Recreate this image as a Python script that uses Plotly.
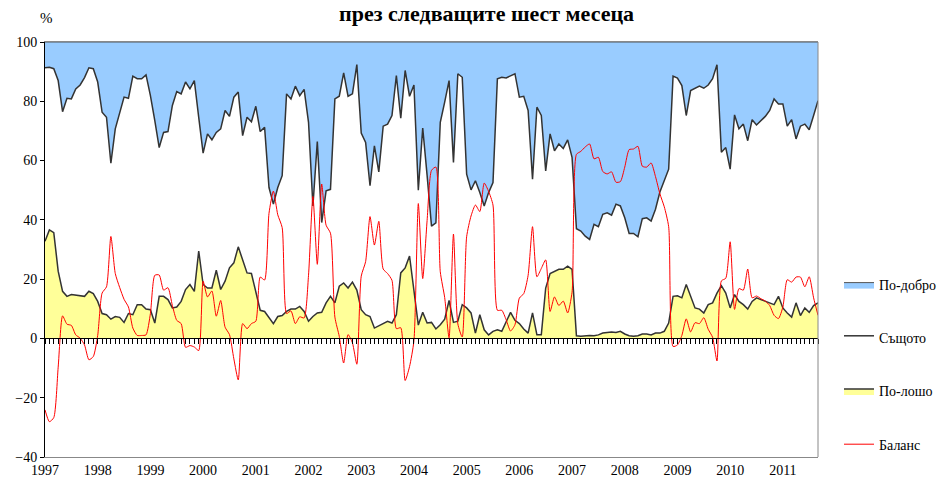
import plotly.graph_objects as go

years = [str(y) for y in range(1997, 2012)]

better = [8.7, 8.5, 9, 13, 23.5, 19, 19.2, 15.8, 14.5, 12, 8.7, 9,
          13.5, 23.7, 25.4, 40.9, 29.3, 24.3, 18.6, 19, 11.5, 12.4, 12.4, 11.1,
          18.1, 26.5, 35.6, 30.5, 30.2, 21.4, 16.7, 17.5, 13.5, 15.8, 13, 25.4,
          37.5, 31, 33, 30.5, 29.3, 23.1, 25.1, 18.6, 16.9, 31.6, 25.4, 26.9,
          21.7, 30.2, 28.8, 49.1, 54.7, 49.1, 45.1, 17.5, 19.2, 14.9, 18.1, 16,
          27.1, 55.3, 33.6, 60.9, 50.2, 49.7, 19.2, 18.3, 10.4, 18.3, 17.5, 7.6,
          30.7, 33.9, 48.5, 35, 43.8, 28.4, 27.7, 24.8, 11.3, 25.7, 9.6, 18.3,
          14.5, 50, 29, 45, 62.1, 61, 27.1, 20.3, 13, 40.6, 10.7, 11.9,
          44.6, 49.9, 46.8, 50.8, 55.3, 50.8, 47.4, 12.4, 11.9, 12.1, 11.3, 10.7,
          18.6, 18.3, 23.1, 46.3, 22, 24.8, 43.5, 31, 36.7, 34.4, 35.9, 33,
          38.9, 63, 63.8, 65.5, 66.6, 61.5, 62.3, 58.1, 57.6, 58.4, 54.7, 55.3,
          59.3, 64.6, 64.6, 65.7, 59.6, 59.3, 60.4, 56.4, 50.6, 46.8, 42.9, 11.5,
          12.2, 14.7, 24.8, 16.4, 15.6, 14.9, 15.6, 14.5, 12.4, 7.7, 37.2, 35.6,
          42.9, 24.6, 29.3, 27.7, 33.3, 26.2, 28, 26.5, 25.1, 23.1, 19.2, 20.9,
          20.9, 28.4, 26.2, 32.7, 28.4, 27.7, 29.6, 24.8, 19.8]

worse = [32.8, 36.6, 35.7, 22.7, 15.9, 14.2, 14.8, 14.6, 14.4, 14.2, 15.9, 15.1,
         12.5, 8.4, 8, 6.5, 7.4, 7.1, 5.4, 8.4, 8, 11.4, 11.4, 9.9,
         9.7, 5.2, 14.2, 14.2, 13.1, 10.3, 10.6, 12.5, 16.5, 18.2, 15.9, 29.5,
         18.2, 17, 17, 23, 16.5, 19.3, 23.8, 25.5, 30.9, 26.6, 22.1, 21.9,
         15.9, 9.5, 9.1, 6.9, 5, 7.4, 7.7, 9.1, 9.9, 9.9, 10.8, 9.1,
         5.8, 7.4, 8.6, 8.8, 12, 14.2, 12, 17.6, 18.7, 17, 19, 16.3,
         9.7, 8, 7.4, 3.5, 4.3, 5, 5.8, 5.2, 8, 22.1, 23.8, 27.8,
         15.3, 4.5, 8.8, 5.2, 5.4, 3.2, 4.6, 6.5, 12.8, 5.4, 5.8, 11.4,
         10.3, 8.6, 1.8, 8, 2.9, 1.2, 2.4, 2.9, 2.4, 5.8, 8.8, 6.1,
         5, 3.2, 1.8, 8.6, 1.2, 1.2, 17, 21.9, 22.7, 23.3, 23.3, 24.4,
         23.3, 0.9, 0.7, 0.9, 1, 0.9, 1.2, 1.8, 2.1, 2.2, 2, 2.4,
         1.5, 0.9, 0.7, 0.9, 1.5, 1.5, 1.2, 1.8, 1.8, 2.4, 5.2, 14.2,
         14.4, 13.7, 18.2, 14.2, 10.3, 9.9, 8.6, 11.4, 12, 15.3, 17.8, 15.3,
         10.3, 14.8, 12.5, 11.4, 9.9, 12.5, 13.7, 13.1, 12.5, 12, 11.4, 14.2,
         10.3, 8.6, 7.2, 12, 7.7, 10.3, 8.8, 11.1, 12]

same = [round(100 - b - w, 1) for b, w in zip(better, worse)]
balance = [round(b - w, 1) for b, w in zip(better, worse)]
months = list(range(len(better)))
year_pos = [12 * i for i in range(len(years))]

FONT = "Liberation Serif"
OFF = 8  # default page body margin
W, H = 946 - OFF, 486 - OFF
L, R, T, B = 45 - OFF, 946 - 818, 42 - OFF, 486 - 457
pw, ph = W - L - R, H - T - B

def px_x(p):  # screen pixel -> paper fraction
    return (p - OFF - L) / pw

def px_y(p):
    return (H - B - (p - OFF)) / ph

outline = dict(color="#333333", width=1.5)

fig = go.Figure()
fig.add_trace(go.Scatter(x=months, y=worse, name="По-лошо", stackgroup="s",
                         fillcolor="#FFFF99", line=outline, mode="lines",
                         legendgroup="g3", legendrank=3, hoverinfo="skip"))
fig.add_trace(go.Scatter(x=months, y=same, name="Същото", stackgroup="s",
                         fillcolor="#FFFFFF", line=outline, mode="lines",
                         legendgroup="g2", legendrank=2, hoverinfo="skip"))
fig.add_trace(go.Scatter(x=months, y=better, name="По-добро", stackgroup="s",
                         fillcolor="#99CCFF", line=dict(color="#555555", width=1),
                         mode="lines", legendgroup="g1", legendrank=1, hoverinfo="skip"))
fig.add_trace(go.Scatter(x=months, y=balance, name="Баланс", mode="lines",
                         line=dict(color="#FF0000", width=1, shape="spline", smoothing=0.6),
                         legendgroup="g4", legendrank=4, hoverinfo="skip"))
# helper (invisible) trace so the zero-line axis with monthly ticks is drawn
fig.add_trace(go.Scatter(x=months, y=[None] * len(months), xaxis="x2",
                         showlegend=False, hoverinfo="skip", mode="lines"))

xr = [0, len(months) - 1]
fig.update_layout(
    width=W, height=H,
    margin=dict(l=L, r=R, t=T, b=B, autoexpand=False),
    paper_bgcolor="white", plot_bgcolor="white",
    font=dict(family=FONT, size=13, color="black"),
    showlegend=True,
    legend=dict(x=px_x(839), y=px_y(269), xanchor="left", yanchor="top",
                traceorder="grouped", tracegroupgap=32, itemwidth=30,
                font=dict(family=FONT, size=14, color="black"),
                bgcolor="rgba(0,0,0,0)"),
    xaxis=dict(range=xr, tickvals=year_pos, ticktext=years, ticks="",
               showgrid=False, zeroline=False, showline=True,
               linecolor="#888888", linewidth=1, mirror=True,
               tickfont=dict(family=FONT, size=14)),
    xaxis2=dict(range=xr, overlaying="x", anchor="free", position=40 / 140,
                side="bottom", showticklabels=False, showgrid=False, zeroline=False,
                showline=True, linecolor="black", linewidth=1,
                ticks="outside", tickmode="linear", tick0=0, dtick=1,
                ticklen=5, tickwidth=1, tickcolor="black"),
    yaxis=dict(range=[-40, 100], dtick=20, tick0=-40, ticks="outside", ticklen=4,
               tickcolor="black", showgrid=False, zeroline=False,
               showline=True, linecolor="black", linewidth=1,
               tickfont=dict(family=FONT, size=14)),
    shapes=[dict(type="line", xref="paper", yref="paper", x0=1, x1=1, y0=0, y1=1,
                 line=dict(color="#888888", width=1))],
    annotations=[
        dict(text="<b>през следващите шест месеца</b>", xref="paper", yref="paper",
             x=px_x(487), y=px_y(14), xanchor="center", yanchor="middle",
             showarrow=False, font=dict(family=FONT, size=22, color="black")),
        dict(text="%", xref="paper", yref="paper", x=px_x(46), y=px_y(18),
             xanchor="center", yanchor="middle", showarrow=False,
             font=dict(family=FONT, size=15, color="black")),
    ],
)

fig.write_html("out.html")
